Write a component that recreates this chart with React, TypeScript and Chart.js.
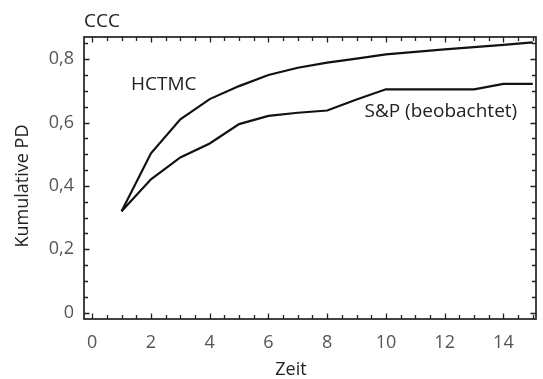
import React, { useEffect, useRef } from "react";
import { Chart, registerables } from "chart.js";

Chart.register(...registerables);

const zeit = [1, 2, 3, 4, 5, 6, 7, 8, 9, 10, 11, 12, 13, 14, 15];
const hctmc = [0.32, 0.503, 0.61, 0.674, 0.715, 0.75, 0.773, 0.789, 0.802, 0.815, 0.823, 0.831, 0.838, 0.845, 0.853];
const spBeobachtet = [0.32, 0.421, 0.49, 0.534, 0.595, 0.621, 0.631, 0.638, 0.673, 0.705, 0.705, 0.705, 0.705, 0.722, 0.722];
const xTicks = [0, 2, 4, 6, 8, 10, 12, 14];
const yTicks = [0, 0.2, 0.4, 0.6, 0.8];
const titleText = "CCC";
const xTitle = "Zeit";
const yTitle = "Kumulative PD";
const seriesLabels = ["HCTMC", "S&P (beobachtet)"];
const labelX = [1.32, 9.27];
const labelY = [0.72, 0.635];

const FONT = "'Open Sans', 'DejaVu Sans', sans-serif";

const framePlugin = {
  id: "frameAndText",
  afterDraw(chart: any) {
    const { ctx, chartArea, scales } = chart;
    const { left, right, top, bottom } = chartArea;
    const x = scales.x;
    const y = scales.y;
    ctx.save();
    // frame
    ctx.strokeStyle = "#222";
    ctx.lineWidth = 1.7;
    ctx.strokeRect(left, top, right - left, bottom - top);
    ctx.lineWidth = 1.3;
    ctx.beginPath();
    // x ticks (inside, bottom and top)
    for (let i = Math.ceil(x.min / 0.5); i * 0.5 <= x.max + 1e-9; i++) {
      const px = Math.round(x.getPixelForValue(i * 0.5)) + 0.5;
      const len = i % 4 === 0 ? 5.5 : 4;
      ctx.moveTo(px, bottom);
      ctx.lineTo(px, bottom - len);
      ctx.moveTo(px, top);
      ctx.lineTo(px, top + len);
    }
    // y ticks (inside, left and right)
    for (let i = Math.ceil(y.min / 0.05 - 1e-9); i * 0.05 <= y.max + 1e-9; i++) {
      const py = Math.round(y.getPixelForValue(i * 0.05)) + 0.5;
      const len = i % 4 === 0 ? 5.5 : 4;
      ctx.moveTo(left, py);
      ctx.lineTo(left + len, py);
      ctx.moveTo(right, py);
      ctx.lineTo(right - len, py);
    }
    ctx.stroke();

    // title
    ctx.fillStyle = "#222";
    ctx.font = `19px ${FONT}`;
    ctx.textAlign = "left";
    ctx.textBaseline = "middle";
    ctx.fillText(titleText, left, 22);

    // series labels
    ctx.font = `19px ${FONT}`;
    for (let i = 0; i < seriesLabels.length; i++) {
      ctx.fillText(seriesLabels[i], x.getPixelForValue(labelX[i]), y.getPixelForValue(labelY[i]));
    }

    // axis titles
    ctx.font = `18px ${FONT}`;
    ctx.textAlign = "center";
    ctx.textBaseline = "alphabetic";
    ctx.fillText(xTitle, 291, 375);
    ctx.save();
    ctx.translate(28, 186);
    ctx.rotate(-Math.PI / 2);
    ctx.fillText(yTitle, 0, 0);
    ctx.restore();
    ctx.restore();
  },
};

export default function App() {
  const canvasRef = useRef<HTMLCanvasElement | null>(null);

  useEffect(() => {
    const canvas = canvasRef.current;
    if (!canvas) return;
    const chart = new Chart(canvas, {
      type: "line",
      data: {
        labels: zeit,
        datasets: [
          {
            label: seriesLabels[0],
            data: zeit.map((t, i) => ({ x: t, y: hctmc[i] })),
            borderColor: "#111",
            borderWidth: 2.2,
            pointRadius: 0,
            tension: 0,
            fill: false,
          },
          {
            label: seriesLabels[1],
            data: zeit.map((t, i) => ({ x: t, y: spBeobachtet[i] })),
            borderColor: "#111",
            borderWidth: 2.2,
            pointRadius: 0,
            tension: 0,
            fill: false,
          },
        ],
      },
      options: {
        animation: false,
        responsive: false,
        devicePixelRatio: 1,
        layout: { padding: { left: 0, right: 7, top: 37, bottom: 0 } },
        plugins: {
          legend: { display: false },
          title: { display: false },
          tooltip: { enabled: false },
        },
        scales: {
          x: {
            type: "linear",
            min: -0.28,
            max: 15.11,
            grid: { display: false, drawTicks: false },
            border: { display: false },
            afterFit: (s: any) => {
              s.height = 60;
            },
            afterBuildTicks: (s: any) => {
              s.ticks = xTicks.map((v) => ({ value: v }));
            },
            ticks: {
              padding: 13,
              maxRotation: 0,
              autoSkip: false,
              color: "#555",
              font: { family: FONT, size: 18 },
              callback: (v: any) => String(v),
            },
          },
          y: {
            type: "linear",
            min: -0.02,
            max: 0.87,
            grid: { display: false, drawTicks: false },
            border: { display: false },
            afterFit: (s: any) => {
              s.width = 84;
            },
            afterBuildTicks: (s: any) => {
              s.ticks = yTicks.map((v) => ({ value: v }));
            },
            ticks: {
              padding: 10,
              autoSkip: false,
              color: "#555",
              font: { family: FONT, size: 18 },
              callback: (v: any) => (v === 0 ? "0" : Number(v).toFixed(1).replace(".", ",")),
            },
          },
        },
      },
      plugins: [framePlugin],
    });
    return () => chart.destroy();
  }, []);

  return (
    <div style={{ position: "fixed", left: 0, top: 0, width: 543, height: 379, background: "#fff" }}>
      <canvas ref={canvasRef} width={543} height={379} />
    </div>
  );
}
